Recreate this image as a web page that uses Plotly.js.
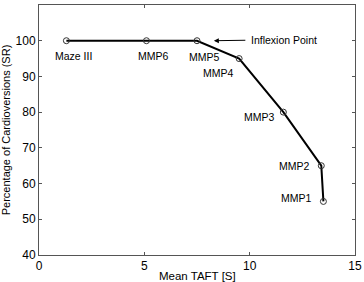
<!DOCTYPE html>
<html><head><meta charset="utf-8">
<script src="https://cdn.plot.ly/plotly-3.0.1.min.js"></script>
<style>html,body{margin:0;padding:0;background:#fff}#c{width:364px;height:282px}</style>
</head><body><div id="c"></div>
<script>
var labels = ["Maze III","MMP6","MMP5","MMP4","MMP3","MMP2","MMP1"];
var taft = [1.3, 5.1, 7.5, 9.5, 11.6, 13.4, 13.5];
var sr = [100, 100, 100, 95, 80, 65, 55];
var inflexionLabel = "Inflexion Point";
var xTitle = "Mean TAFT [S]";
var yTitle = "Percentage of Cardioversions (SR)";

var shifts = [[7,-15],[7,-15],[7,-16],[-21,-14],[-24,-5],[-27,0],[-27,3]];
var ann = labels.map(function(t,i){
  return {x: taft[i], y: sr[i], xref:'x', yref:'y', text:t, showarrow:false,
    xshift: shifts[i][0], yshift: shifts[i][1],
    font:{family:'Liberation Sans, Arial', size:10.5, color:'#000'}};
});
ann.push({x: taft[2]+0.8, y: sr[2], xref:'x', yref:'y', text: inflexionLabel,
  showarrow:true, ax:70, ay:-1, arrowhead:2, arrowsize:1, arrowwidth:1, arrowcolor:'#000',
  standoff:0, startstandoff:4,
  font:{family:'Liberation Sans, Arial', size:10.5, color:'#000'}});
ann.push({x:0.5, y:0, xref:'paper', yref:'paper', text:xTitle, showarrow:false,
  xanchor:'center', yanchor:'top', yshift:-13,
  font:{family:'Liberation Sans, Arial', size:11.5, color:'#000'}});

Plotly.newPlot('c', [{
  x: taft, y: sr, type:'scatter', mode:'lines+markers',
  line:{color:'#000', width:2},
  marker:{symbol:'circle-open', size:6, color:'#333', line:{width:1, color:'#333'}},
  cliponaxis:false, hoverinfo:'none'
}], {
  width:364, height:282,
  margin:{l:38.5, r:8.5, t:5, b:26.5},
  paper_bgcolor:'#fff', plot_bgcolor:'#fff',
  showlegend:false,
  font:{family:'Liberation Sans, Arial', color:'#000'},
  xaxis:{range:[0,15], tickvals:[0,5,10,15], showgrid:false, zeroline:false,
    showline:true, mirror:'ticks', linecolor:'#555', linewidth:1,
    ticks:'inside', ticklen:3, tickcolor:'#555', tickfont:{size:12}},
  yaxis:{range:[40,110], tickvals:[40,50,60,70,80,90,100,110], showgrid:false, zeroline:false,
    showline:true, mirror:'ticks', linecolor:'#555', linewidth:1,
    ticks:'inside', ticklen:3, tickcolor:'#555', tickfont:{size:12},
    title:{text:yTitle, font:{size:11}, standoff:4}},
  annotations: ann
}, {staticPlot:true});
</script></body></html>
